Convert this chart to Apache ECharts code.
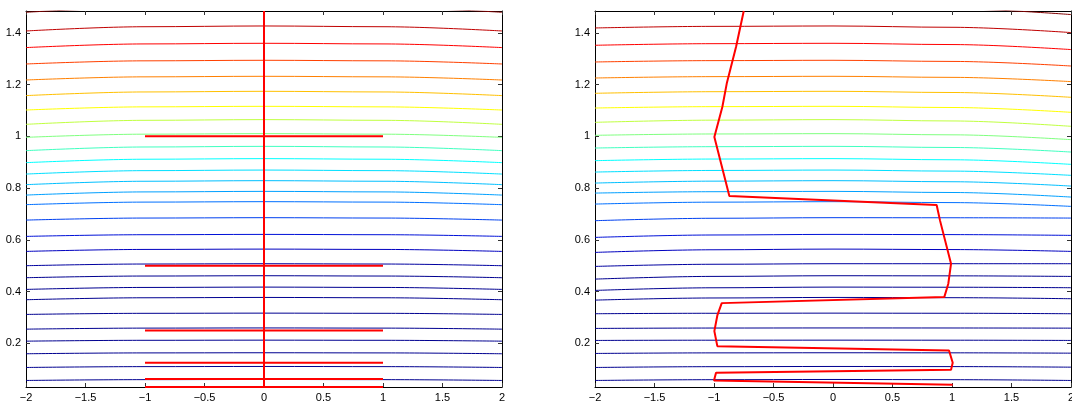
<!DOCTYPE html>
<html>
<head>
<meta charset="utf-8">
<script src="https://cdn.jsdelivr.net/npm/echarts@6/dist/echarts.min.js"></script>
<style>
  html, body { margin: 0; padding: 0; background: #fff; }
  #chart { width: 1072px; height: 401px; }
</style>
</head>
<body>
<div id="chart"></div>
<script>
// ---------------- DATA ----------------
const xTickLabels = [-2, -1.5, -1, -0.5, 0, 0.5, 1, 1.5, 2];
const yTickValues = [0.2, 0.4, 0.6, 0.8, 1.0, 1.2, 1.4];
const xRange = [-2, 2];
const yRange = [0.03125, 1.484375];

// x positions where each contour level is sampled
const contourX = [-2, -1, 0, 1, 2];

// Left panel contour levels (bottom to top), y value at each x in contourX
const leftAtXm2 = [0.0565, 0.1067, 0.1597, 0.2084, 0.2548, 0.3117, 0.3685, 0.4084, 0.4536, 0.5000, 0.5553, 0.6133, 0.6763, 0.7359, 0.7730, 0.8132, 0.8542, 0.8983, 0.9447, 0.9961, 1.0464, 1.1017, 1.1574, 1.2177, 1.2796, 1.3430, 1.4072, 1.4795];
const leftAtXm1 = [0.0597, 0.1100, 0.1630, 0.2117, 0.2588, 0.3160, 0.3761, 0.4160, 0.4601, 0.5065, 0.5629, 0.6198, 0.6842, 0.7458, 0.7852, 0.8264, 0.8674, 0.9115, 0.9588, 1.0083, 1.0619, 1.1139, 1.1715, 1.2299, 1.2918, 1.3571, 1.4236, 1.4970];
const leftAtX0  = [0.0603, 0.1106, 0.1636, 0.2123, 0.2595, 0.3167, 0.3774, 0.4173, 0.4613, 0.5077, 0.5642, 0.6210, 0.6856, 0.7475, 0.7873, 0.8287, 0.8697, 0.9138, 0.9613, 1.0104, 1.0646, 1.1160, 1.1740, 1.2320, 1.2939, 1.3596, 1.4265, 1.5000];
const leftAtX1  = [0.0597, 0.1100, 0.1630, 0.2117, 0.2588, 0.3160, 0.3761, 0.4160, 0.4601, 0.5065, 0.5629, 0.6198, 0.6842, 0.7458, 0.7852, 0.8264, 0.8674, 0.9115, 0.9588, 1.0083, 1.0619, 1.1139, 1.1715, 1.2299, 1.2918, 1.3571, 1.4236, 1.4970];
const leftAtX2  = [0.0565, 0.1067, 0.1597, 0.2084, 0.2548, 0.3117, 0.3685, 0.4084, 0.4536, 0.5000, 0.5553, 0.6133, 0.6763, 0.7359, 0.7730, 0.8132, 0.8542, 0.8983, 0.9447, 0.9961, 1.0464, 1.1017, 1.1574, 1.2177, 1.2796, 1.3430, 1.4072, 1.4795];

// Right panel contour levels (bottom to top)
const rightAtXm2 = [0.0565, 0.1067, 0.1609, 0.2112, 0.2576, 0.3144, 0.3670, 0.4045, 0.4482, 0.4973, 0.5514, 0.6094, 0.6740, 0.7382, 0.7807, 0.8194, 0.8619, 0.9060, 0.9548, 1.0039, 1.0541, 1.1094, 1.1663, 1.2254, 1.2873, 1.3519, 1.4188, 1.4920];
const rightAtXm1 = [0.0595, 0.1098, 0.1631, 0.2121, 0.2591, 0.3162, 0.3753, 0.4147, 0.4587, 0.5056, 0.5616, 0.6187, 0.6833, 0.7456, 0.7860, 0.8268, 0.8681, 0.9122, 0.9600, 1.0091, 1.0625, 1.1147, 1.1725, 1.2307, 1.2926, 1.3581, 1.4250, 1.4984];
const rightAtX0  = [0.0603, 0.1106, 0.1636, 0.2123, 0.2595, 0.3167, 0.3774, 0.4173, 0.4613, 0.5077, 0.5642, 0.6210, 0.6856, 0.7475, 0.7873, 0.8287, 0.8697, 0.9138, 0.9613, 1.0104, 1.0646, 1.1160, 1.1740, 1.2320, 1.2939, 1.3596, 1.4265, 1.5000];
const rightAtX1  = [0.0595, 0.1101, 0.1633, 0.2121, 0.2593, 0.3162, 0.3764, 0.4168, 0.4608, 0.5077, 0.5624, 0.6202, 0.6853, 0.7439, 0.7829, 0.8245, 0.8656, 0.9094, 0.9569, 1.0058, 1.0594, 1.1114, 1.1694, 1.2279, 1.2895, 1.3547, 1.4214, 1.4929];
const rightAtX2  = [0.0565, 0.1079, 0.1620, 0.2112, 0.2587, 0.3144, 0.3724, 0.4149, 0.4586, 0.5077, 0.5553, 0.6172, 0.6841, 0.7293, 0.7653, 0.8078, 0.8492, 0.8917, 0.9393, 0.9872, 1.0387, 1.0928, 1.1508, 1.2115, 1.2718, 1.3353, 1.4010, 1.4706];

// jet-like colours for each contour level (bottom to top)
const contourColors = ['#000090', '#000090', '#000090', '#000090', '#000090', '#000090', '#000090', '#000090', '#000090', '#0000a0', '#0000c0', '#0010d8', '#0040f0', '#0070ff', '#00a0ff', '#00c0ff', '#00e0ff', '#00ffff', '#40ffc0', '#80ff80', '#c0ff40', '#ffff00', '#ffc000', '#ff8000', '#ff4000', '#ff0000', '#c00000', '#800000'];

// Left panel red cross-lines
const crossVerticalX = [0];
const crossLevelsY = [1.0, 0.5, 0.25, 0.125, 0.0625, 0.03125];
const crossSpanX = [-1, 1];

// Right panel red path
const pathX = [-0.750, -0.815, -0.893, -0.930, -0.997, -0.871, 0.871, 0.899, 0.992, 0.969, 0.935, -0.935, -0.972, -0.997, -0.972, 0.975, 1.006, 0.992, -0.983, -1.000, 1.006];
const pathY = [1.4844, 1.3453, 1.2038, 1.1133, 0.9973, 0.7691, 0.7343, 0.6752, 0.5077, 0.4304, 0.3786, 0.3554, 0.3078, 0.2471, 0.1891, 0.1725, 0.1249, 0.0978, 0.0862, 0.0565, 0.0398];

// ---------------- CHART ----------------
const chart = echarts.init(document.getElementById('chart'), null, { renderer: 'canvas' });
const FONT = 'Liberation Sans, Arial, Helvetica, sans-serif';
const minusFmt = v => {
  const s = String(+(+v).toFixed(2));
  return s.replace('-', '\u2212');
};

const grids = [
  { left: 26, top: 11, width: 476, height: 376, containLabel: false, outerBoundsMode: 'none' },
  { left: 595, top: 11, width: 476, height: 376, containLabel: false, outerBoundsMode: 'none' }
];

function xAxes(g) {
  const base = {
    gridIndex: g, type: 'value', min: xRange[0], max: xRange[1], interval: 0.5,
    axisLine: { show: true, onZero: false, lineStyle: { color: '#000', width: 1 } },
    axisTick: { show: true, inside: true, length: 4, lineStyle: { color: '#333', width: 1 } },
    splitLine: { show: false }
  };
  return [
    Object.assign({}, base, { position: 'bottom',
      axisLabel: { show: true, fontSize: 11, color: '#000', fontFamily: FONT, margin: 5, formatter: minusFmt, customValues: xTickLabels } }),
    Object.assign({}, base, { position: 'top', axisLabel: { show: false } })
  ];
}
function yAxes(g) {
  const base = {
    gridIndex: g, type: 'value', min: yRange[0], max: yRange[1],
    axisLine: { show: true, onZero: false, lineStyle: { color: '#000', width: 1 } },
    axisTick: { show: true, inside: true, length: 4, customValues: yTickValues, lineStyle: { color: '#333', width: 1 } },
    splitLine: { show: false }
  };
  return [
    Object.assign({}, base, { position: 'left',
      axisLabel: { show: true, fontSize: 11, color: '#000', fontFamily: FONT, margin: 5, customValues: yTickValues, formatter: minusFmt } }),
    Object.assign({}, base, { position: 'right', axisLabel: { show: false } })
  ];
}

const series = [];
function addContours(g, cols) {
  for (let i = 0; i < contourColors.length; i++) {
    series.push({
      type: 'line', xAxisIndex: g * 2, yAxisIndex: g * 2,
      data: contourX.map((x, k) => [x, cols[k][i]]),
      smooth: 0.35, smoothMonotone: 'x', showSymbol: false, symbol: 'none', clip: true,
      lineStyle: { color: contourColors[i], width: 1 }, silent: true, z: 2
    });
  }
}
addContours(0, [leftAtXm2, leftAtXm1, leftAtX0, leftAtX1, leftAtX2]);
addContours(1, [rightAtXm2, rightAtXm1, rightAtX0, rightAtX1, rightAtX2]);

const redStyle = { color: '#ff0000', width: 2 };
crossVerticalX.forEach(x => {
  series.push({ type: 'line', xAxisIndex: 0, yAxisIndex: 0, data: [[x, yRange[0]], [x, yRange[1]]],
    showSymbol: false, symbol: 'none', lineStyle: redStyle, z: 5, clip: false, silent: true });
});
crossLevelsY.forEach(y => {
  series.push({ type: 'line', xAxisIndex: 0, yAxisIndex: 0, data: [[crossSpanX[0], y], [crossSpanX[1], y]],
    showSymbol: false, symbol: 'none', lineStyle: redStyle, z: 5, clip: false, silent: true });
});
series.push({ type: 'line', xAxisIndex: 2, yAxisIndex: 2, data: pathX.map((x, i) => [x, pathY[i]]),
  showSymbol: false, symbol: 'none', lineStyle: redStyle, z: 5, clip: true, silent: true });

chart.setOption({
  animation: false,
  backgroundColor: '#fff',
  grid: grids,
  xAxis: [...xAxes(0), ...xAxes(1)],
  yAxis: [...yAxes(0), ...yAxes(1)],
  series: series
});
</script>
</body>
</html>
